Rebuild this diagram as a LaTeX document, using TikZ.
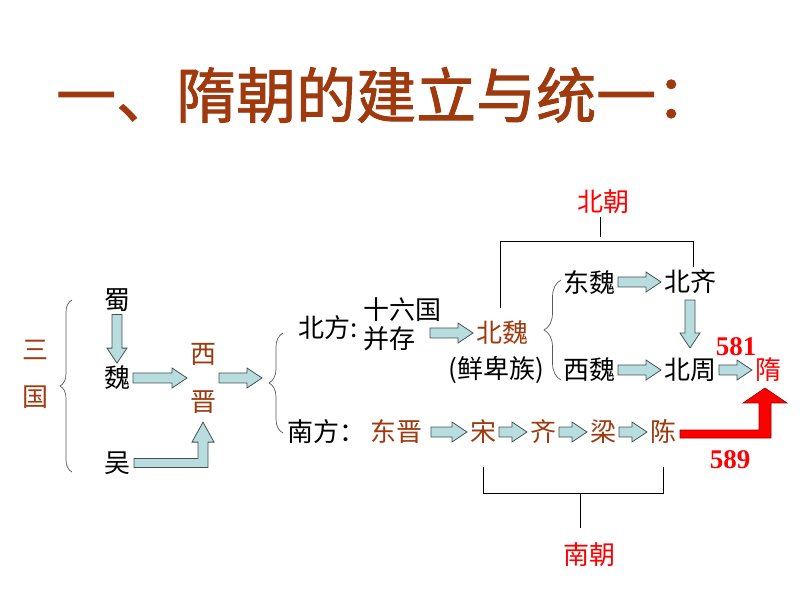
\documentclass[tikz,border=0pt]{standalone}
\usepackage{fontspec}
\setmainfont{Noto Sans CJK SC}
\newfontfamily\numfont{Liberation Serif}
\newfontfamily\titlefont{Noto Sans CJK SC}[FakeBold=1.5]
\usetikzlibrary{calc}
\usetikzlibrary{decorations.pathreplacing}
\definecolor{dynbrown}{RGB}{158,58,14}
\definecolor{arrowfill}{RGB}{183,221,222}
\definecolor{arrowline}{RGB}{70,80,80}
\begin{document}
\begin{tikzpicture}[x=1pt,y=1pt,
  txt/.style={inner sep=0pt,outer sep=3pt,font=\fontsize{26}{30}\selectfont},
  dyn/.style={txt,text=dynbrown},
  era/.style={txt,text=red},
  yr/.style={inner sep=0pt,font=\numfont\bfseries\fontsize{27}{30}\selectfont,text=red},
  barrow/.style={draw=arrowline,fill=arrowfill,line width=0.8pt,
    to path={($(\tikztostart)!5pt!90:(\tikztotarget)$)
      -- ($(\tikztotarget)!15pt!(\tikztostart)!5pt!90:(\tikztotarget)$)
      -- ($(\tikztotarget)!15pt!(\tikztostart)!10pt!90:(\tikztotarget)$)
      -- (\tikztotarget)
      -- ($(\tikztotarget)!15pt!(\tikztostart)!10pt!-90:(\tikztotarget)$)
      -- ($(\tikztotarget)!15pt!(\tikztostart)!5pt!-90:(\tikztotarget)$)
      -- ($(\tikztostart)!5pt!-90:(\tikztotarget)$) -- cycle}},
  brk/.style={draw=black!65,line width=0.7pt,decorate,decoration={brace,amplitude=#1}},
  bar/.style={draw=black,line width=0.8pt}]
\useasboundingbox (0,0) rectangle (800,600);

% title
\node[anchor=west,inner sep=0pt,text=dynbrown,font=\titlefont\fontsize{60}{70}\selectfont] (title) at (56,505) {一、隋朝的建立与统一：};

% three kingdoms
\node[dyn,align=center,font=\fontsize{26}{47}\selectfont] (sanguo) at (35,226) {三\\国};
\draw[brk=12pt] (72,128) -- (72,300);
\node[txt] (shu) at (117,300) {蜀};
\node[txt] (wei) at (117,222) {魏};
\node[txt] (wu) at (117,137) {吴};
\node[dyn,align=center,font=\fontsize{26}{48}\selectfont] (xijin) at (203,222) {西\\晋};
\draw[barrow] (shu.south) to (wei.north);
\draw[barrow] (wei.east) to (xijin.west);
\draw[barrow] let \p1=([xshift=1pt]wu.east), \p2=([yshift=-6pt]xijin.south) in
  (\x1,\y1+4.5) -- (\x2-5,\y1+4.5) -- (\x2-5,\y2-20) -- (\x2-11,\y2-20) -- (\x2,\y2)
  -- (\x2+11,\y2-20) -- (\x2+5,\y2-20) -- (\x2+5,\y1-4.5) -- (\x1,\y1-4.5) -- cycle;
\coordinate (fork1) at (262,222);
\draw[barrow] (xijin.east) to (fork1);
\draw[brk=14pt] (283,167) -- (283,267);

% north
\node[txt] (beifang) at (328,272) {北方:};
\node[txt] (shiliu) at (402,290) {十六国};
\node[txt] (bingcun) at (389,261) {并存};
\node[dyn] (beiwei) at (502,267) {北魏};
\node[txt] (xianbei) at (496,230) {(鲜卑族)};
\draw[barrow] ([xshift=12pt]bingcun.east |- beiwei.west) to (beiwei.west);
\draw[brk=17pt] (561,220) -- (561,320);
\node[txt] (dongwei) at (589,318) {东魏};
\node[txt] (beiqi) at (690,318) {北齐};
\node[txt] (xiwei) at (589,230) {西魏};
\node[txt] (beizhou) at (690,230) {北周};
\node[era] (sui) at (768,230) {隋};
\node[yr] (y581) at (736,253) {581};
\coordinate (zhoutop) at (690,252);
\draw[barrow] (dongwei.east) to (beiqi.west);
\draw[barrow] (xiwei.east) to (beizhou.west);
\draw[barrow] ([yshift=-3pt]beiqi.south) to (zhoutop);
\draw[barrow] (beizhou.east) to (sui.west);

% northern dynasties
\node[era] (beichao) at (603,398) {北朝};
\draw[bar] ([xshift=-2pt,yshift=10pt]beiwei.north) -- ++(0,67) -| ([xshift=3pt]beiqi.north);
\draw[bar] ([xshift=-3pt]beichao.south) -- ++(0,-20);

% south
\node[txt] (nanfang) at (326,168) {南方：};
\node[dyn] (dongjin) at (396,168) {东晋};
\node[dyn] (song) at (483,168) {宋};
\node[dyn] (qi) at (543,168) {齐};
\node[dyn] (liang) at (603,168) {梁};
\node[dyn] (chen) at (663,168) {陈};
\draw[barrow] ([xshift=6pt]dongjin.east) to (song.west);
\draw[barrow] (song.east) to (qi.west);
\draw[barrow] (qi.east) to (liang.west);
\draw[barrow] (liang.east) to (chen.west);

% southern dynasties
\node[era] (nanchao) at (589,45) {南朝};
\draw[bar] ([yshift=-20pt]song.south) -- ++(0,-26) -| ([yshift=-20pt]chen.south);
\draw[bar] (580,107) -- (580,72);

% unification
\draw[fill=red,draw=red!60!black,line width=0.6pt] let \p1=([xshift=1pt]chen.east), \p2=([xshift=-3pt,yshift=-3pt]sui.south) in
  (\x1,\y1+2) -- (\x2-6,\y1+2) -- (\x2-6,\y2-15) -- (\x2-22,\y2-15) -- (\x2,\y2)
  -- (\x2+22,\y2-15) -- (\x2+6,\y2-15) -- (\x2+6,\y1-6) -- (\x1,\y1-6) -- cycle;
\node[yr] (y589) at (730,140) {589};
\end{tikzpicture}
\end{document}
